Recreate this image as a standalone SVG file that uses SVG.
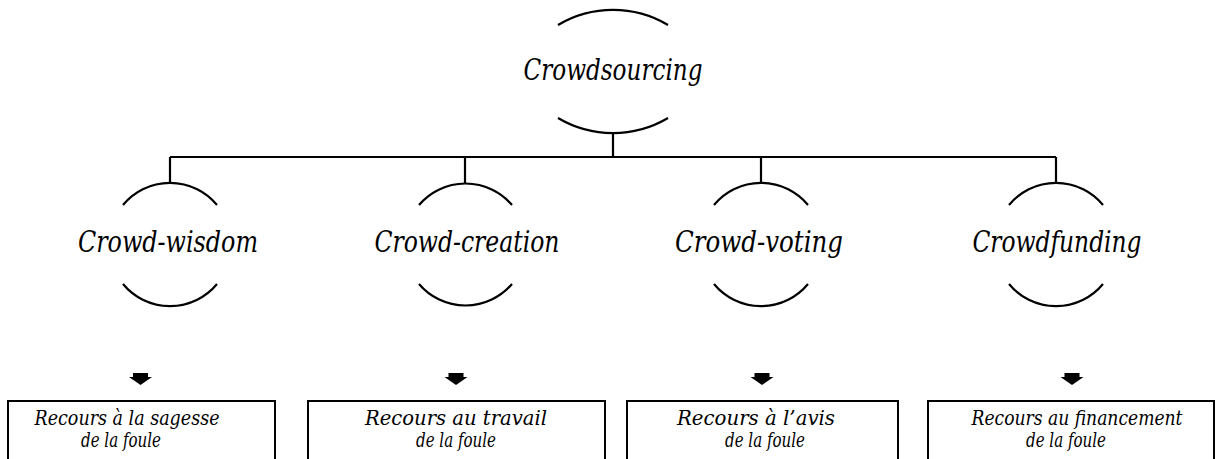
<svg xmlns="http://www.w3.org/2000/svg" width="1224" height="459" viewBox="0 0 1224 459">
<style>
.arc{fill:none;stroke:#000;stroke-width:2.2}
.ln{fill:none;stroke:#000;stroke-width:2.2}
.box{fill:#fff;stroke:#000;stroke-width:2}
.ar{fill:#000}
</style>
<defs>
<path id="arrow" class="ar" d="M-7.5,373 H7.5 V377 H11.5 L0,385 L-11.5,377 H-7.5 Z"/>
</defs>
<rect width="1224" height="459" fill="#fff"/>
<g id="connectors">
<path class="ln" d="M613,133 V157 M170,157 H1056 M170,157 V183 M465,157 V183 M761,157 V183 M1056,157 V183"/>
<use href="#arrow" x="140.5"/>
<use href="#arrow" x="456"/>
<use href="#arrow" x="762"/>
<use href="#arrow" x="1072"/>
</g>
<g font-family="'DejaVu Serif', serif" font-style="italic" font-size="29" text-anchor="middle" fill="#000">
<g id="node-crowdsourcing">
<path class="arc" d="M558,25 A108 108 0 0 1 668,25"/>
<path class="arc" d="M558,118 A108 108 0 0 0 668,118"/>
<text x="613" y="80" textLength="179" lengthAdjust="spacingAndGlyphs">Crowdsourcing</text>
</g>
<g id="node-wisdom">
<path class="arc" d="M123,205 A61 61 0 0 1 217,205"/>
<path class="arc" d="M123,284 A61 61 0 0 0 217,284"/>
<text x="168" y="252" textLength="180" lengthAdjust="spacingAndGlyphs">Crowd-wisdom</text>
</g>
<g id="node-creation">
<path class="arc" d="M419,205 A61 61 0 0 1 512,205"/>
<path class="arc" d="M419,284 A61 61 0 0 0 512,284"/>
<text x="467" y="252" textLength="185" lengthAdjust="spacingAndGlyphs">Crowd-creation</text>
</g>
<g id="node-voting">
<path class="arc" d="M714,205 A61 61 0 0 1 808,205"/>
<path class="arc" d="M714,284 A61 61 0 0 0 808,284"/>
<text x="759" y="252" textLength="168" lengthAdjust="spacingAndGlyphs">Crowd-voting</text>
</g>
<g id="node-funding">
<path class="arc" d="M1009,205 A61 61 0 0 1 1103,205"/>
<path class="arc" d="M1009,284 A61 61 0 0 0 1103,284"/>
<text x="1057" y="252" textLength="169" lengthAdjust="spacingAndGlyphs">Crowdfunding</text>
</g>
</g>
<g font-family="'DejaVu Serif', serif" font-style="italic" font-size="20" text-anchor="middle" fill="#000">
<g id="box-sagesse">
<rect class="box" x="8" y="401" width="267" height="80"/>
<text x="127" y="425" textLength="185" lengthAdjust="spacingAndGlyphs">Recours à la sagesse</text>
<text x="121" y="447" textLength="80" lengthAdjust="spacingAndGlyphs">de la foule</text>
</g>
<g id="box-travail">
<rect class="box" x="308" y="401" width="297" height="80"/>
<text x="456" y="425" textLength="182" lengthAdjust="spacingAndGlyphs">Recours au travail</text>
<text x="456" y="447" textLength="80" lengthAdjust="spacingAndGlyphs">de la foule</text>
</g>
<g id="box-avis">
<rect class="box" x="627" y="401" width="271" height="80"/>
<text x="756" y="425" textLength="158" lengthAdjust="spacingAndGlyphs">Recours à l’avis</text>
<text x="765" y="447" textLength="80" lengthAdjust="spacingAndGlyphs">de la foule</text>
</g>
<g id="box-financement">
<rect class="box" x="928" y="401" width="286" height="80"/>
<text x="1077" y="425" textLength="211" lengthAdjust="spacingAndGlyphs">Recours au financement</text>
<text x="1066" y="447" textLength="80" lengthAdjust="spacingAndGlyphs">de la foule</text>
</g>
</g>
</svg>
